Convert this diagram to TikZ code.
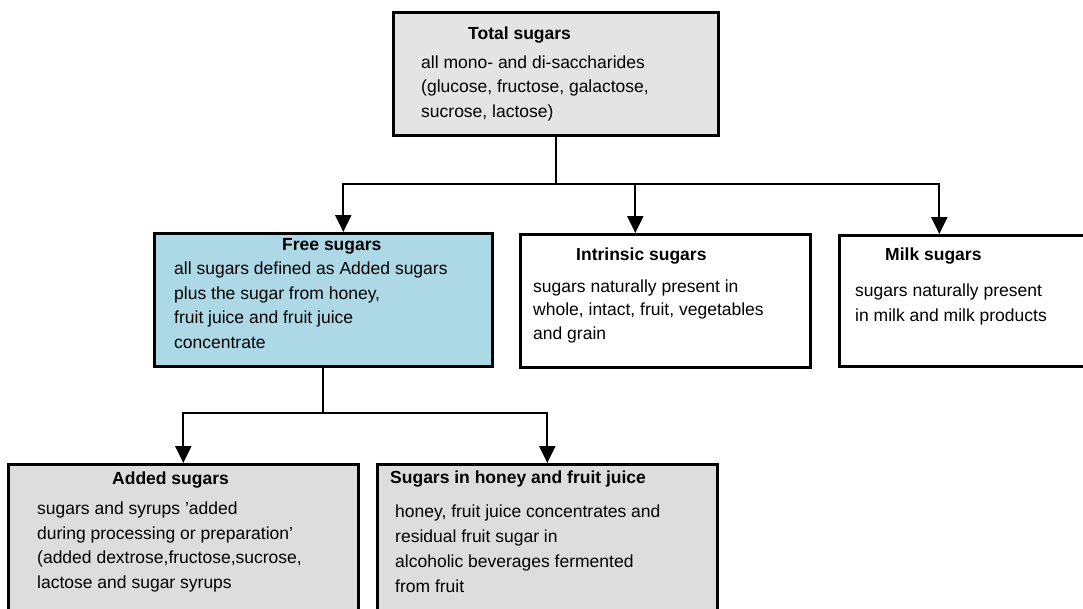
\documentclass[tikz,border=0pt]{standalone}
\usepackage{fontspec}
\setmainfont{Liberation Sans}
\usetikzlibrary{arrows.meta}
\definecolor{boxgray}{HTML}{E4E4E4}
\definecolor{boxgrayb}{HTML}{DDDDDD}
\definecolor{freeblue}{HTML}{ADD8E6}
\newcommand\txtlines[2]{{\fontsize{17.5}{#1}\selectfont\begin{tabular}[t]{@{}l@{}}#2\end{tabular}}}
\begin{document}
\begin{tikzpicture}[x=1pt,y=-1pt,
  boxnode/.style={draw=black, line width=2.6pt, rectangle, anchor=north west, inner sep=0pt},
  titletext/.style={anchor=base west, inner sep=0pt, font=\fontsize{17.5}{21}\selectfont\bfseries},
  bodytext/.style={anchor=base west, inner sep=0pt},
  link/.style={line width=2.2pt},
  arrowlink/.style={link, -{Triangle[length=17pt,width=16pt]}}]
\useasboundingbox (0,0) rectangle (1083,608);
\clip (0,0) rectangle (1083,608);
% boxes
\node[boxnode, fill=boxgray, minimum width=325pt, minimum height=123pt] (total) at (392,11) {};
\node[boxnode, fill=freeblue, minimum width=338pt, minimum height=133pt] (free) at (153,232) {};
\node[boxnode, fill=white, minimum width=290pt, minimum height=133pt] (intr) at (519,233) {};
\node[boxnode, fill=white, minimum width=260pt, minimum height=131pt] (milk) at (838,234) {};
\node[boxnode, fill=boxgrayb, minimum width=350pt, minimum height=170pt] (added) at (7,463) {};
\node[boxnode, fill=boxgrayb, minimum width=340pt, minimum height=170pt] (honey) at (376,463) {};
% texts
\node[titletext] (totalT) at (468,39) {Total sugars};
\node[bodytext] (totalB) at (421,68) {\txtlines{24.5}{all mono- and di-saccharides\\(glucose, fructose, galactose,\\sucrose, lactose)}};
\node[titletext] (freeT) at (282,250) {Free sugars};
\node[bodytext] (freeB) at (174,274.5) {\txtlines{24.5}{all sugars defined as Added sugars\\plus the sugar from honey,\\fruit juice and fruit juice\\concentrate}};
\node[titletext] (intrT) at (576,260) {Intrinsic sugars};
\node[bodytext] (intrB) at (533,292) {\txtlines{23.8}{sugars naturally present in\\whole, intact, fruit, vegetables\\and grain}};
\node[titletext] (milkT) at (885,260) {Milk sugars};
\node[bodytext] (milkB) at (855,296) {\txtlines{25}{sugars naturally present\\in milk and milk products}};
\node[titletext] (addedT) at (112,484) {Added sugars};
\node[bodytext] (addedB) at (37,514.5) {\txtlines{24.7}{sugars and syrups 'added\\during processing or preparation'\\(added dextrose,fructose,sucrose,\\lactose and sugar syrups}};
\node[titletext] (honeyT) at (390,483) {Sugars in honey and fruit juice};
\node[bodytext] (honeyB) at (395,517.5) {\txtlines{25}{honey, fruit juice concentrates and\\residual fruit sugar in\\alcoholic beverages fermented\\from fruit}};
% connector points
\coordinate (jt) at (total.south |- 0,184);
\coordinate (freein) at ([xshift=20pt]free.north);
\coordinate (intrin) at ([xshift=-30pt]intr.north);
\coordinate (milkin) at ([xshift=-30pt]milk.north);
\coordinate (jf) at (free.south |- 0,413);
% connectors
\draw[link] (total.south) -- (jt);
\draw[arrowlink] (jt) -| (freein);
\draw[arrowlink] (jt) -| (milkin);
\draw[arrowlink] (jt -| intrin) -- (intrin);
\draw[link] (free.south) -- (jf);
\draw[arrowlink] (jf) -| (added.north);
\draw[arrowlink] (jf) -| (honey.north);
\end{tikzpicture}
\end{document}
